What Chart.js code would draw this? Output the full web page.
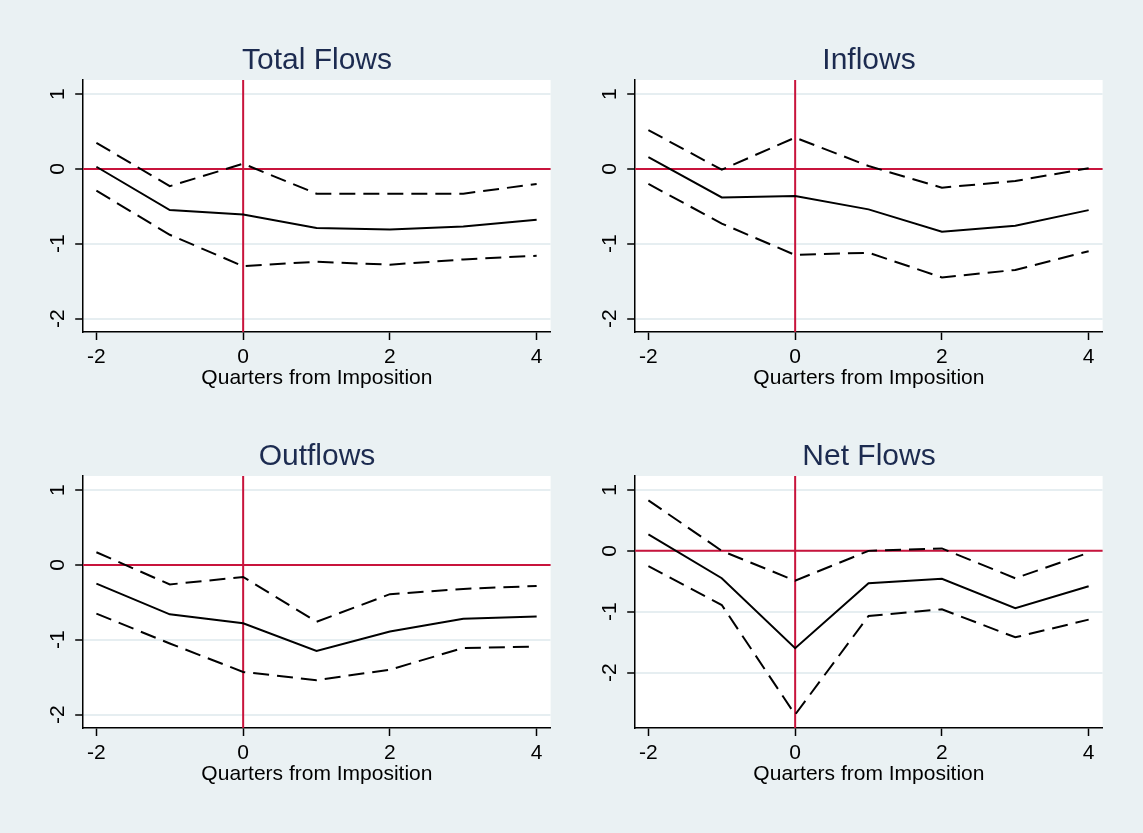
<!DOCTYPE html>
<html><head><meta charset="utf-8">
<script src="https://cdn.jsdelivr.net/npm/chart.js@4.4.1/dist/chart.umd.min.js"></script>
<style>
html,body{margin:0;padding:0;background:#eaf1f3;overflow:hidden;}
#wrap{position:relative;width:1143px;height:833px;overflow:hidden;background:#eaf1f3;}
canvas{position:absolute;}
</style></head><body><div id="wrap">
<canvas id="c1" width="634" height="380" style="left:0px;top:30px"></canvas>
<canvas id="c2" width="634" height="380" style="left:552px;top:30px"></canvas>
<canvas id="c3" width="634" height="380" style="left:0px;top:426px"></canvas>
<canvas id="c4" width="634" height="380" style="left:552px;top:426px"></canvas>
</div>
<script>
// ---- data ----
const quarters = [-2, -1, 0, 1, 2, 3, 4];
const xTicks = [-2, 0, 2, 4];
const yTicks = [-2, -1, 0, 1];
const xTitle = 'Quarters from Imposition';

const totalEst = [0.03, -0.55, -0.61, -0.79, -0.81, -0.77, -0.68];
const totalHi  = [0.35, -0.23, 0.07, -0.33, -0.33, -0.33, -0.20];
const totalLo  = [-0.29, -0.88, -1.30, -1.24, -1.28, -1.21, -1.16];

const inEst = [0.16, -0.38, -0.36, -0.54, -0.84, -0.76, -0.55];
const inHi  = [0.52, -0.01, 0.42, 0.04, -0.25, -0.16, 0.01];
const inLo  = [-0.20, -0.73, -1.15, -1.12, -1.45, -1.35, -1.10];

const outEst = [-0.25, -0.66, -0.78, -1.15, -0.89, -0.72, -0.69];
const outHi  = [0.17, -0.26, -0.16, -0.76, -0.39, -0.32, -0.28];
const outLo  = [-0.65, -1.05, -1.43, -1.54, -1.40, -1.11, -1.09];

const netEst = [0.27, -0.45, -1.60, -0.53, -0.46, -0.94, -0.58];
const netHi  = [0.83, 0.00, -0.49, 0.00, 0.04, -0.45, -0.03];
const netLo  = [-0.25, -0.89, -2.69, -1.07, -0.96, -1.42, -1.13];

const refX = 0, refY = 0;
const xRange = [-2.18, 4.19];
const yRangeStd = [-2.18, 1.19];
const yRangeNet = [-2.91, 1.23];

// ---- rendering ----
const FONT = "'Liberation Sans', Arial, Helvetica, sans-serif";
const RED = '#c8143c';

const bgPlugin = {
  id: 'bg',
  beforeDraw(chart) {
    const {ctx, chartArea: a} = chart;
    ctx.save();
    ctx.fillStyle = '#ffffff';
    ctx.fillRect(a.left, a.top, a.right - a.left, a.bottom - a.top);
    ctx.restore();
  }
};
const refPlugin = {
  id: 'ref',
  beforeDatasetsDraw(chart) {
    const {ctx, chartArea: a, scales} = chart;
    const px = scales.x.getPixelForValue(refX);
    const py = scales.y.getPixelForValue(refY);
    ctx.save();
    ctx.strokeStyle = RED;
    ctx.lineWidth = 2;
    ctx.beginPath();
    ctx.moveTo(a.left, py); ctx.lineTo(a.right, py);
    ctx.moveTo(px, a.top); ctx.lineTo(px, a.bottom);
    ctx.stroke();
    ctx.restore();
  }
};

function pts(arr) { return quarters.map((q, i) => ({x: q, y: arr[i]})); }

function makeChart(id, title, est, hi, lo, yRange) {
  const dashed = {borderColor: '#000', borderWidth: 2, borderDash: [16, 8], pointRadius: 0, fill: false, tension: 0};
  new Chart(document.getElementById(id), {
    type: 'line',
    data: {
      datasets: [
        Object.assign({data: pts(hi)}, dashed),
        {data: pts(est), borderColor: '#000', borderWidth: 2, pointRadius: 0, fill: false, tension: 0},
        Object.assign({data: pts(lo)}, dashed)
      ]
    },
    options: {
      responsive: false, animation: false, events: [],
      layout: {padding: 0},
      plugins: {
        legend: {display: false}, tooltip: {enabled: false},
        title: {display: true, text: title, color: '#1c2b50',
          font: {family: FONT, size: 30, weight: 'normal'},
          padding: {top: 13, bottom: 1}}
      },
      scales: {
        x: {
          type: 'linear', min: xRange[0], max: xRange[1],
          afterBuildTicks: s => { s.ticks = xTicks.map(v => ({value: v})); },
          afterFit: s => { s.height = 78; },
          grid: {drawOnChartArea: false, drawTicks: true, tickLength: 8, tickColor: '#000', tickWidth: 1.5},
          border: {display: true, color: '#000', width: 1.5},
          ticks: {color: '#000', font: {family: FONT, size: 21}, padding: 5, minRotation: 0, maxRotation: 0,
            callback: v => String(v)},
          title: {display: true, text: xTitle, color: '#000', font: {family: FONT, size: 21},
            padding: {top: 0, bottom: 19.4}}
        },
        y: {
          type: 'linear', position: 'left', min: yRange[0], max: yRange[1],
          afterBuildTicks: s => { s.ticks = yTicks.map(v => ({value: v})); },
          afterFit: s => { s.width = 83.2; },
          grid: {color: '#e6eef1', lineWidth: 2, tickColor: '#000', tickWidth: 1.5, tickLength: 8},
          border: {display: true, color: '#000', width: 1.5},
          ticks: {color: '#000', font: {family: FONT, size: 21}, padding: 8, minRotation: 90, maxRotation: 90,
            crossAlign: 'center', callback: v => String(v)}
        },
        yPad: {
          type: 'linear', position: 'right', display: true, min: 0, max: 1,
          afterFit: s => { s.width = 83.4; },
          grid: {display: false, drawTicks: false},
          border: {display: false},
          ticks: {display: false}
        }
      }
    },
    plugins: [bgPlugin, refPlugin]
  });
}

makeChart('c1', 'Total Flows', totalEst, totalHi, totalLo, yRangeStd);
makeChart('c2', 'Inflows', inEst, inHi, inLo, yRangeStd);
makeChart('c3', 'Outflows', outEst, outHi, outLo, yRangeStd);
makeChart('c4', 'Net Flows', netEst, netHi, netLo, yRangeNet);
</script>
</body></html>
